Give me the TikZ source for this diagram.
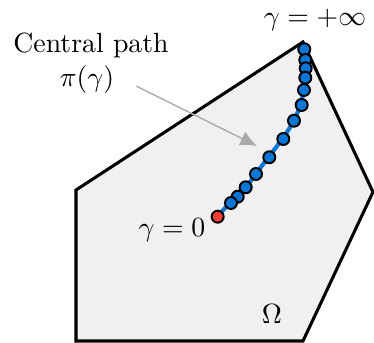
\documentclass[tikz,border=0pt]{standalone}
\usepackage{tikz}
\usetikzlibrary{arrows.meta,positioning,calc}
\definecolor{pathblue}{RGB}{10,118,214}
\definecolor{dotred}{RGB}{244,64,52}
\definecolor{regiongray}{RGB}{240,240,240}
\definecolor{arrgray}{RGB}{170,170,170}

\begin{document}
\begin{tikzpicture}[x=0.36pt, y=0.36pt,
	dot/.style={draw, circle, line width=0.7pt, inner sep=0pt, minimum size=12*0.36pt, fill=pathblue},
	arr/.style={-{Latex[length=6pt,width=5.5pt]}, arrgray, line width=0.5pt}]
	\useasboundingbox (0,0) rectangle (374,343);
	% feasible region
	\draw[line width=1.1pt, fill=regiongray] (303,301) -- (76,153) -- (76,2) -- (303,2) -- (373,151) -- cycle;
	% central path
	\foreach \n/\x/\y in {0/217.7/126.3, 1/231/140, 2/237.7/146.3, 3/245.7/155.7, 4/256/169, 5/269.3/185.7, 6/283.3/204, 7/294/222.3, 8/301.7/238, 9/304/253, 10/305.3/265.3, 11/305.7/274.7, 12/305.3/283, 13/304.3/293.7}
		\coordinate (p\n) at (\x,\y);
	\draw[pathblue, line width=1.5pt] (p0) to[out=52,in=235] (p4) to[out=55,in=240] (p7) to[out=65,in=265] (p10) -- (p11) to[out=90,in=275] (p13);
	\foreach \n in {13,12,...,1}
		\node[dot] (c\n) at (p\n) {};
	\node[dot, fill=dotred] (c0) at (p0) {};
	% labels
	\node (title) at (91,298) {Central path};
	\node (pi) at (87,263) {$\pi(\gamma)$};
	\node (inf) at (315,323) {$\gamma = +\infty$};
	\node (zero) at (172,113) {$\gamma = 0$};
	\node (omega) at (272,29) {$\Omega$};
	\coordinate (tip) at (257,197);
	\draw[arr, shorten <=5pt] (pi.east) -- (tip);
\end{tikzpicture}
\end{document}
